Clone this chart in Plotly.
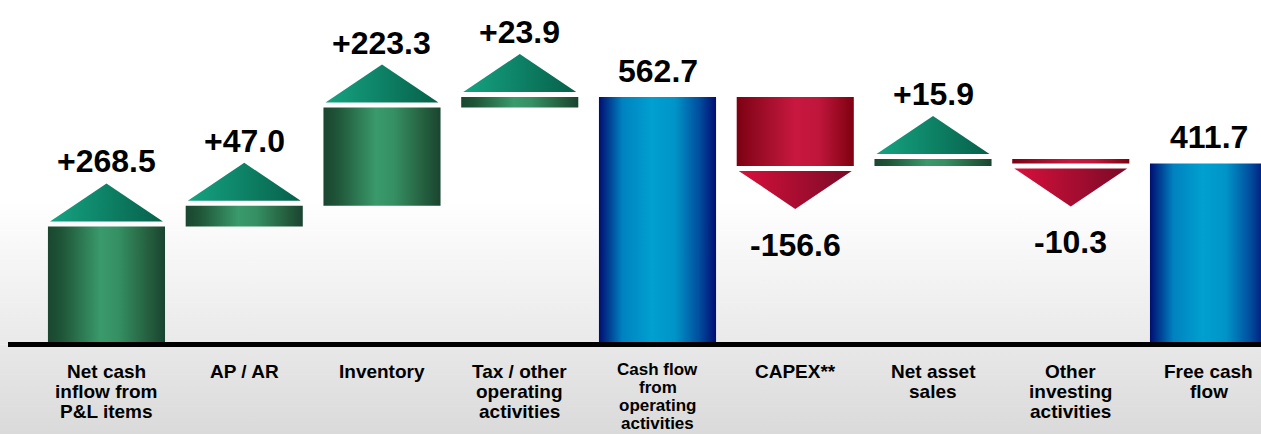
import plotly.graph_objects as go

# ---- data -------------------------------------------------------------
label_lines = [
    ["Net cash", "inflow from", "P&L items"],
    ["AP / AR"],
    ["Inventory"],
    ["Tax / other", "operating", "activities"],
    ["Cash flow", "from", "operating", "activities"],
    ["CAPEX**"],
    ["Net asset", "sales"],
    ["Other", "investing", "activities"],
    ["Free cash", "flow"],
]
values = [268.5, 47.0, 223.3, 23.9, 562.7, -156.6, 15.9, -10.3, 411.7]
measures = ["relative", "relative", "relative", "relative", "total",
            "relative", "relative", "relative", "total"]

# ---- geometry / style -------------------------------------------------
W, H = 1261, 434
X_RANGE = [-0.773, 8.381]
Y_RANGE = [-203.5, 783.3]
PX_PER_Y = H / (Y_RANGE[1] - Y_RANGE[0])
X_PER_PX = (X_RANGE[1] - X_RANGE[0]) / W

BAR_W = 0.85
ARROW_W = 0.82
ARROW_GAP = 5 / PX_PER_Y
ARROW_H = 38 / PX_PER_Y

FONT = "Liberation Sans, Arial, Helvetica, sans-serif"

GREEN_BAR = [[0, "#1a4630"], [0.12, "#1f5538"], [0.45, "#3a9a6b"],
             [0.6, "#359063"], [0.85, "#25603f"], [1, "#1a4430"]]
BLUE_BAR = [[0, "#000e72"], [0.2, "#0082c0"], [0.45, "#00a0d0"],
            [0.65, "#0094c8"], [0.85, "#0050a0"], [1, "#000e72"]]
RED_BAR = [[0, "#7d0012"], [0.2, "#9a0c26"], [0.5, "#c8183f"],
           [0.7, "#c0163c"], [0.9, "#94081e"], [1, "#7e0010"]]
GREEN_ARROW = [[0, "#15a381"], [1, "#06604a"]]
RED_ARROW = [[0, "#d8103c"], [1, "#7a0a26"]]

fig = go.Figure()


def poly(xs, ys, scale, orient, start, stop):
    fig.add_trace(go.Scatter(
        x=xs, y=ys, mode="lines", fill="toself",
        line=dict(width=0),
        fillgradient=dict(type=orient, colorscale=scale, start=start, stop=stop),
        hoverinfo="skip", showlegend=False,
    ))


# background: white fading to light grey above the baseline, grey band below
x0, x1 = X_RANGE
poly([x0, x1, x1, x0, x0], [0, 0, Y_RANGE[1], Y_RANGE[1], 0],
     [[0, "#e9e9e9"], [0.42, "#ffffff"], [1, "#ffffff"]], "vertical", 0, Y_RANGE[1])
poly([x0, x1, x1, x0, x0], [Y_RANGE[0], Y_RANGE[0], 0, 0, Y_RANGE[0]],
     [[0, "#dadada"], [1, "#e8e8e8"]], "vertical", Y_RANGE[0], 0)

annotations = []
running = 0.0
for i, (v, m) in enumerate(zip(values, measures)):
    xl, xr = i - BAR_W / 2, i + BAR_W / 2
    al, ar = i - ARROW_W / 2, i + ARROW_W / 2
    if m == "total":
        lo, hi = 0.0, v
        running = v
        poly([xl, xr, xr, xl, xl], [lo, lo, hi, hi, lo], BLUE_BAR, "horizontal", xl, xr)
        annotations.append(dict(x=i, y=hi, yanchor="bottom", yshift=6,
                                text=f"{v:.1f}"))
    else:
        start, end = running, running + v
        running = end
        lo, hi = min(start, end), max(start, end)
        if v >= 0:
            poly([xl, xr, xr, xl, xl], [lo, lo, hi, hi, lo], GREEN_BAR, "horizontal", xl, xr)
            base = end + ARROW_GAP
            apex = base + ARROW_H
            poly([al, ar, i, al], [base, base, apex, base], GREEN_ARROW, "horizontal", al, ar)
            annotations.append(dict(x=i, y=apex, yanchor="bottom", yshift=2,
                                    text=f"{v:+.1f}"))
        else:
            poly([xl, xr, xr, xl, xl], [lo, lo, hi, hi, lo], RED_BAR, "horizontal", xl, xr)
            base = end - ARROW_GAP
            apex = base - ARROW_H
            poly([al, ar, i, al], [base, base, apex, base], RED_ARROW, "horizontal", al, ar)
            annotations.append(dict(x=i, y=apex, yanchor="top", yshift=-16,
                                    text=f"{v:+.1f}"))

for a in annotations:
    a.update(xref="x", yref="y", showarrow=False, xanchor="center",
             font=dict(family=FONT, size=32, color="#000000", weight="bold"))

# category labels, one annotation per line; the four-line label is set a
# little smaller and tighter so its last line stays inside the figure
for i, lines in enumerate(label_lines):
    four = len(lines) >= 4
    step = 18 if four else 20
    top = 25 if four else 27
    size = 17 if four else 19
    for k, line in enumerate(lines):
        annotations.append(dict(
            x=i, y=0, xref="x", yref="y", yshift=-(top + step * k),
            xanchor="center", yanchor="middle", showarrow=False, text=line,
            font=dict(family=FONT, size=size, color="#000000", weight="bold"),
        ))

# baseline
fig.add_shape(type="line", xref="x", yref="y",
              x0=X_RANGE[0] + 8 * X_PER_PX, x1=X_RANGE[1], y0=0, y1=0,
              line=dict(color="#000000", width=5), layer="above")

fig.update_layout(
    width=W, height=H,
    margin=dict(l=0, r=0, t=0, b=0, pad=0),
    paper_bgcolor="#ffffff", plot_bgcolor="#ffffff",
    showlegend=False,
    annotations=annotations,
    xaxis=dict(range=X_RANGE, visible=False, fixedrange=True),
    yaxis=dict(range=Y_RANGE, visible=False, fixedrange=True),
)

fig.write_html("out.html", config={"displayModeBar": False})
